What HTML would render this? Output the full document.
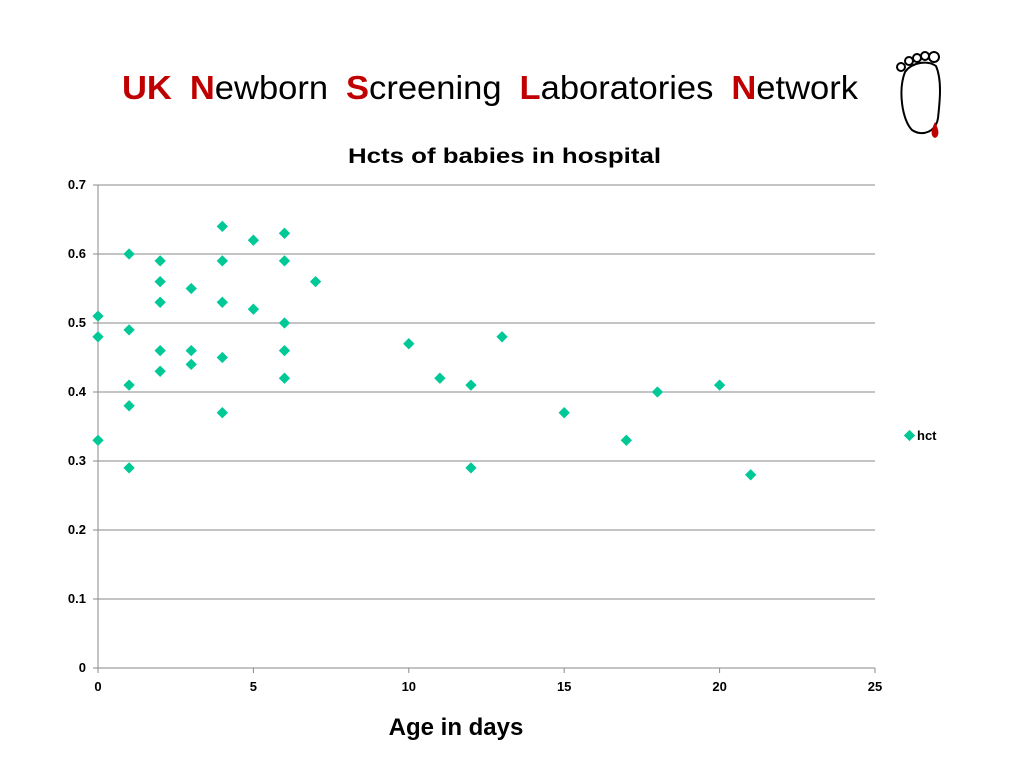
<!DOCTYPE html>
<html><head><meta charset="utf-8"><style>
body{margin:0;background:#fff;width:1024px;height:768px;overflow:hidden;font-family:"Liberation Sans",sans-serif}
svg{position:absolute;left:0;top:0}
</style></head><body>
<svg id="c" width="1024" height="768">
<text x="122" y="99" font-size="33" fill="#000" textLength="736" lengthAdjust="spacingAndGlyphs"><tspan fill="#c00000" font-weight="bold">UK</tspan>  <tspan fill="#c00000" font-weight="bold" dx="8">N</tspan>ewborn <tspan fill="#c00000" font-weight="bold" dx="8">S</tspan>creening <tspan fill="#c00000" font-weight="bold" dx="8">L</tspan>aboratories <tspan fill="#c00000" font-weight="bold" dx="8">N</tspan>etwork</text>
<g fill="none" stroke="#000" stroke-width="2">
<path d="M905 72 C898 90 902 120 912 130 C922 137 936 132 938 118 C940 100 942 80 936 66 C928 60 912 62 905 72 Z"/>
<circle cx="901" cy="67" r="4"/><circle cx="909" cy="61" r="4"/><circle cx="917" cy="58" r="4"/><circle cx="925" cy="56" r="4"/><circle cx="934" cy="57" r="5"/>
<path d="M935 122 C931 130 930 136 935 138 C940 136 939 130 935 122 Z" fill="#c00000" stroke="none"/>
</g>
<text x="348" y="163" font-size="21" font-weight="bold" textLength="313" lengthAdjust="spacingAndGlyphs">Hcts of babies in hospital</text>
<text x="456" y="735" font-size="24" font-weight="bold" text-anchor="middle">Age in days</text>
<g id="grid"></g><g id="axes"></g><g id="pts"></g>
<g><rect x="905.5" y="431.5" width="8" height="8" fill="#00c896" transform="rotate(45 909.5 435.5)"/><text x="917" y="440" font-size="13" font-weight="bold">hct</text></g>
</svg>
<script>
const xs=[0,0,0,1,1,1,1,1,2,2,2,2,2,3,3,3,4,4,4,4,4,5,5,6,6,6,6,6,7,10,11,12,12,13,15,17,18,20,21];
const ys=[0.51,0.48,0.33,0.60,0.49,0.41,0.38,0.29,0.59,0.56,0.53,0.46,0.43,0.55,0.46,0.44,0.64,0.59,0.53,0.45,0.37,0.62,0.52,0.63,0.59,0.50,0.46,0.42,0.56,0.47,0.42,0.41,0.29,0.48,0.37,0.33,0.40,0.41,0.28];
const yTicks=[0,0.1,0.2,0.3,0.4,0.5,0.6,0.7];
const xTicks=[0,5,10,15,20,25];
const X=v=>98+v*(875-98)/25, Y=v=>668-v*(668-185)/0.7;
const NS="http://www.w3.org/2000/svg";
function mk(t,a,p){const e=document.createElementNS(NS,t);for(const k in a)e.setAttribute(k,a[k]);p.appendChild(e);return e;}
const g=document.getElementById('grid'),ax=document.getElementById('axes'),pt=document.getElementById('pts');
yTicks.forEach(v=>{
 if(v>0){const l=mk('line',{x1:98,x2:875,y1:Y(v),y2:Y(v),stroke:'#888','stroke-width':1},g);
 
 }
 mk('line',{x1:93,x2:98,y1:Y(v),y2:Y(v),stroke:'#888'},ax);
 const t=mk('text',{x:86,y:Y(v)+4,'font-size':13,'font-weight':'bold','text-anchor':'end'},ax);t.textContent=v;
 
 
});
mk('line',{x1:98,x2:98,y1:185,y2:668,stroke:'#888'},ax);
mk('line',{x1:98,x2:875,y1:668,y2:668,stroke:'#888'},ax);
xTicks.forEach(v=>{
 mk('line',{x1:X(v),x2:X(v),y1:668,y2:673,stroke:'#888'},ax);
 const t=mk('text',{x:X(v),y:691,'font-size':13,'font-weight':'bold','text-anchor':'middle'},ax);t.textContent=v;
 
 
});
xs.forEach((x,i)=>{
 const cx=X(x),cy=Y(ys[i]);
 const r=mk('rect',{x:cx-4,y:cy-4,width:8,height:8,fill:'#00c896',transform:`rotate(45 ${cx} ${cy})`},pt);
 
 
});
</script>
</body></html>
